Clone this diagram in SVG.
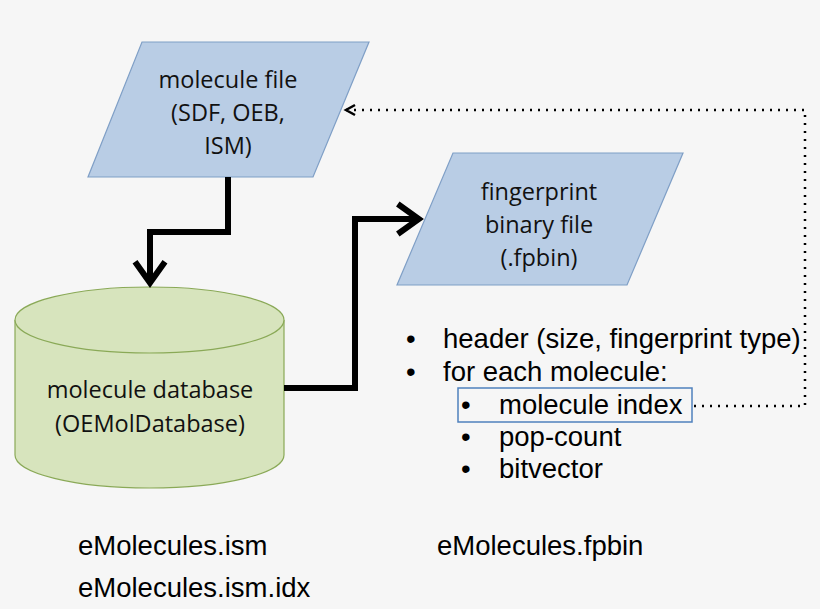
<svg xmlns="http://www.w3.org/2000/svg" width="820" height="609" viewBox="0 0 820 609">
<style>
.sh{fill:#b9cde5;stroke:#7f9fc6;stroke-width:1.2}
.cy{fill:#d7e4bd;stroke:#8aa957;stroke-width:1.2}
.t{font-family:"Open Sans",sans-serif;font-size:23.5px;fill:#111;text-anchor:middle}
.b{font-family:"Liberation Sans",sans-serif;font-size:27.5px;fill:#000}
.c{fill:none;stroke:#000;stroke-width:6}
</style>
<defs>
<marker id="ah" markerWidth="6" markerHeight="6" refX="4.2" refY="3" orient="auto" markerUnits="strokeWidth"><path d="M0.5,0.5 L4,3 L0.5,5.5" fill="none" stroke="#000" stroke-width="1"/></marker>
<marker id="dh" markerWidth="14" markerHeight="14" refX="3" refY="7" orient="auto" markerUnits="userSpaceOnUse"><path d="M12,2 L3,7 L12,12" fill="none" stroke="#000" stroke-width="2.5"/></marker>
</defs>
<rect width="820" height="609" fill="#f6f6f6"/>
<g id="file1"><polygon class="sh" points="142,42 369,42 313,177 88,177"/>
<text class="t" x="228" y="88">molecule file</text><text class="t" x="228" y="121">(SDF, OEB,</text><text class="t" x="228" y="154">ISM)</text></g>
<g id="fpbin"><polygon class="sh" points="453,153 683,153 627,285 397,285"/>
<text class="t" x="539" y="200">fingerprint</text><text class="t" x="539" y="233">binary file</text><text class="t" x="539" y="266">(.fpbin)</text></g>
<g id="db"><path class="cy" d="M15,320 L15,455 A134.5,33 0 0 0 284,455 L284,320 A134.5,33 0 0 0 15,320 Z"/>
<path class="cy" d="M15,320 A134.5,33 0 0 0 284,320"/>
<text class="t" x="150" y="398">molecule database</text><text class="t" x="150" y="432">(OEMolDatabase)</text></g>
<g id="list" class="b">
<text x="406" y="348">•</text><text x="443" y="348">header (size, fingerprint type)</text>
<text x="406" y="381">•</text><text x="443" y="381">for each molecule:</text>
<rect x="458" y="388" width="234" height="34" fill="none" stroke="#4f81bd" stroke-width="1.5"/>
<text x="461" y="414">•</text><text x="499" y="414">molecule index</text>
<text x="461" y="446">•</text><text x="499" y="446">pop-count</text>
<text x="461" y="478">•</text><text x="499" y="478">bitvector</text>
</g>
<g id="labels" class="b">
<text x="78" y="555">eMolecules.ism</text><text x="78" y="597">eMolecules.ism.idx</text><text x="437" y="555">eMolecules.fpbin</text>
</g>
<g id="connectors">
<path class="c" d="M228,177 L228,232 L150,232 L150,284" marker-end="url(#ah)"/>
<path class="c" d="M284,388 L355,388 L355,219 L420,219" marker-end="url(#ah)"/>
<path d="M346,110 L805,110 L805,406 L692,406" fill="none" stroke="#000" stroke-width="2.5" stroke-dasharray="2,6" marker-start="url(#dh)"/>
</g>
</svg>
